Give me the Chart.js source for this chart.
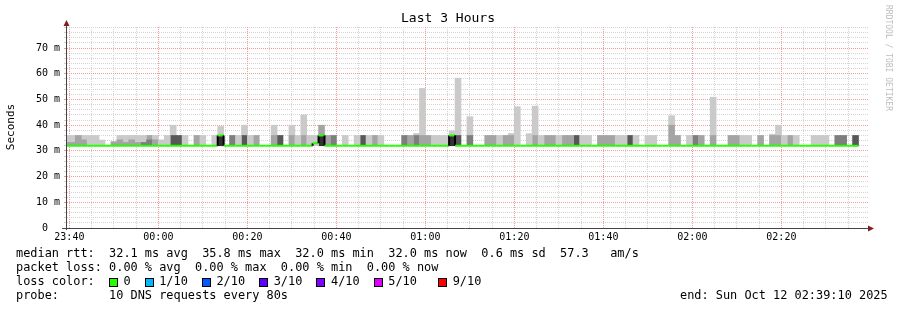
<!DOCTYPE html>
<html>
<head>
<meta charset="utf-8">
<title>Last 3 Hours</title>
<script src="https://cdn.jsdelivr.net/npm/chart.js@4/dist/chart.umd.min.js"></script>
<style>
html,body{margin:0;padding:0;background:#ffffff;overflow:hidden;}
#c{display:block;}
</style>
</head>
<body>
<canvas id="c" width="897" height="310"></canvas>
<script>
// ================= DATA =================
const stepSeconds = 80;            // RRD step
const firstStepStart = -80;        // seconds relative to 23:40:00
const axisStart = -32;             // 23:39:28
const axisEnd = 10768;             // 02:39:28
const timeLabels = ['23:40','00:00','00:20','00:40','01:00','01:20','01:40','02:00','02:20'];
const yTickLabels = ['0','10 m','20 m','30 m','40 m','50 m','60 m','70 m'];
const yMaxMs = 78.2;
const smokeBase = 32;

// per RRD step: shade of the lower smoke block (0 = no smoke, 1 light .. 5 darkest)
const lowShade = [
  2,2,2,2,1,1,1,0,2,2,
  2,2,2,3,3,2,1,1,4,4,
  1,0,2,1,0,1,5,0,3,1,
  4,1,2,0,0,2,4,0,2,1,
  2,1,1,5,2,3,0,1,0,1,
  4,1,2,1,0,0,0,3,2,3,
  2,2,1,1,1,5,4,0,3,0,
  0,2,2,1,2,2,1,0,1,2,
  1,2,2,1,2,2,4,1,1,0,
  2,2,2,1,1,4,1,0,1,1,
  0,0,2,2,0,1,3,2,0,2,
  0,0,2,2,1,1,0,2,0,2,
  2,1,2,1,0,0,1,1,1,0,
  3,3,0,4
];
// top of the lower smoke block (ms)
const lowTop = [
  33.3,33.3,36,34.3,36,36,34.2,null,33.6,34.3,
  33.3,34.3,33.3,33.3,34.3,34.3,34.3,36,36,36,
  36,null,36,36,null,36,36,null,36,36,
  36,36,36,null,null,36,36,null,36,36,
  36,36,36,36,36,36,null,36,null,36,
  36,36,36,36,null,null,null,36,36,36,
  36,36,36,36,36,36,36,null,36,null,
  null,36,36,36,36,36,47.2,null,36.7,36,
  36,36,36,36,36,36,36,36,36,null,
  36,36,36,36,36,36,36,null,36,36,
  null,null,40,36,null,36,36,36,null,36,
  null,null,36,36,36,36,null,36,null,36,
  36,36,36,36,null,null,36,36,36,null,
  36,36,null,36
];
// top of the upper (outlier) smoke block (ms)
const highTop = [
  36,36,null,36,null,null,null,null,null,36,
  36,36,36,36,36,36,null,null,40,null,
  null,null,null,null,null,null,39.5,null,null,null,
  40,null,null,null,null,40,null,null,40,null,
  44,null,null,40,null,null,null,null,null,null,
  null,null,null,null,null,null,null,null,null,36.8,
  54.3,null,null,null,null,37.8,58.3,null,43.3,null,
  null,null,null,null,null,36.8,null,null,null,47.4,
  null,null,null,null,null,null,null,null,null,null,
  null,null,null,null,null,null,null,null,null,null,
  null,null,43.7,null,null,null,null,null,null,50.9,
  null,null,null,null,null,null,null,null,null,36.5,
  40,null,null,null,null,null,null,null,null,null,
  null,null,null,null
];
// shade of the upper block
const topShade = [
  1,1,1,1,1,1,1,1,1,1,
  1,1,1,1,2,1,1,1,1,1,
  1,1,1,1,1,1,1,1,1,1,
  1,1,1,1,1,1,1,1,1,1,
  1,1,1,2,1,1,1,1,1,1,
  1,1,1,1,1,1,1,1,1,1,
  1,1,1,1,1,1,1,1,1,1,
  1,1,1,1,1,1,1,1,1,1,
  1,1,1,1,1,1,1,1,1,1,
  1,1,1,1,1,1,1,1,1,1,
  1,1,1,1,1,1,1,1,1,1,
  1,1,1,1,1,1,1,1,1,1,
  1,1,1,1,1,1,1,1,1,1,
  1,1,1,1
];
// median rtt per step (ms)
const medianMs = [
  32,32,32,32,32,32,32,32,32,32,
  32,32,32,32,32,32,32,32,32,32,
  32,32,32,32,32,32,36,32,32,32,
  32,32,32,32,32,32,32,32,32,32,
  32,32,33,36,32,32,32,32,32,32,
  32,32,32,32,32,32,32,32,32,32,
  32,32,32,32,32,36,32,32,32,32,
  32,32,32,32,32,32,32,32,32,32,
  32,32,32,32,32,32,32,32,32,32,
  32,32,32,32,32,32,32,32,32,32,
  32,32,32,32,32,32,32,32,32,32,
  32,32,32,32,32,32,32,32,32,32,
  32,32,32,32,32,32,32,32,32,32,
  32,32,32,32
];

const titleText = 'Last 3 Hours';
const yAxisTitle = 'Seconds';
const watermark = 'RRDTOOL / TOBI OETIKER';
const statsLine = 'median rtt:  32.1 ms avg  35.8 ms max  32.0 ms min  32.0 ms now  0.6 ms sd  57.3   am/s';
const lossLine  = 'packet loss: 0.00 % avg  0.00 % max  0.00 % min  0.00 % now';
const lossTitle = 'loss color:';
const lossLabels = ['0','1/10','2/10','3/10','4/10','5/10','9/10'];
const lossColors = ['#26ff00','#00b8ff','#0059ff','#5e00ff','#7e00ff','#dd00ff','#ff0000'];
const probeLine = 'probe:       10 DNS requests every 80s';
const endLine   = 'end: Sun Oct 12 02:39:10 2025';

// ================= STYLE =================
const MONO = '"DejaVu Sans Mono"';
const shadeColors = ['#cacaca','#a4a4a4','#7e7e7e','#585858','#323232'];
const medianColor = '#26ff00';
const minorGrid = '#d4d4d4';
const majorGrid = '#f49a9a';
const axisColor = '#444444';
const arrowColor = '#7f1f1f';

// ================= BUILD DATASETS =================
const stepCenter = j => firstStepStart + stepSeconds * j + stepSeconds / 2;
const datasets = [];

const medianPts = [];
medianMs.forEach((m, j) => {
  if (m == null) return;
  medianPts.push({x: firstStepStart + stepSeconds * j, y: m});
  medianPts.push({x: firstStepStart + stepSeconds * (j + 1), y: m});
});
datasets.push({
  type: 'line', data: medianPts, borderColor: medianColor, borderWidth: 2,
  pointRadius: 0, tension: 0, order: 0, clip: 0,
  segment: { borderColor: c => (c.p0.parsed.x === c.p1.parsed.x ? '#000000' : medianColor) }
});

const barCommon = { borderWidth: 0, barPercentage: 1, categoryPercentage: 1, grouped: false, order: 1 };
for (let s = 1; s <= 5; s++) {
  const pts = [];
  lowShade.forEach((sh, j) => { if (sh === s && lowTop[j] != null) pts.push({x: stepCenter(j), y: [smokeBase, lowTop[j]]}); });
  datasets.push(Object.assign({ type: 'bar', data: pts, backgroundColor: shadeColors[s - 1] }, barCommon));
}
for (let t = 1; t <= 2; t++) {
  const pts = [];
  highTop.forEach((h, j) => { if (h != null && topShade[j] === t && lowTop[j] != null) pts.push({x: stepCenter(j), y: [lowTop[j], h]}); });
  datasets.push(Object.assign({ type: 'bar', data: pts, backgroundColor: shadeColors[t - 1] }, barCommon));
}

// ================= PLUGIN (grid, axes, texts) =================
function dottedH(ctx, x1, x2, py, color) {
  ctx.fillStyle = color;
  for (let px = x1; px < x2; px += 2) ctx.fillRect(px, py, 1, 1);
}
function dottedV(ctx, y1, y2, px, color) {
  ctx.fillStyle = color;
  for (let py = y1; py < y2; py += 2) ctx.fillRect(px, py, 1, 1);
}
const rrdPlugin = {
  id: 'rrd',
  beforeDatasetsDraw(chart) {
    const {ctx, chartArea: a, scales: {x, y}} = chart;
    const L = Math.round(a.left), R = Math.round(a.right), T = Math.round(a.top), B = Math.round(a.bottom);
    ctx.save();
    const drawH = (major) => y.ticks.forEach(t => {
      if (t.value === 0 || (t.value % 10 === 0) !== major) return;
      const py = Math.floor(y.getPixelForValue(t.value));
      const col = major ? majorGrid : minorGrid;
      dottedH(ctx, L, R, py, col);
      ctx.fillStyle = col; ctx.fillRect(L - 3, py, 2, 1);
    });
    const drawV = (major) => x.ticks.forEach(t => {
      if ((t.value % 1200 === 0) !== major) return;
      const px = Math.floor(x.getPixelForValue(t.value));
      dottedV(ctx, T, B, px, major ? majorGrid : minorGrid);
    });
    drawH(false); drawV(false); drawH(true); drawV(true);
    ctx.restore();
  },
  afterDatasetsDraw(chart) {
    const {ctx, chartArea: a} = chart;
    ctx.save();
    ctx.strokeStyle = axisColor; ctx.lineWidth = 1; ctx.setLineDash([]);
    ctx.beginPath(); ctx.moveTo(a.left - 0.5, a.bottom + 2); ctx.lineTo(a.left - 0.5, a.top - 5); ctx.stroke();
    ctx.beginPath(); ctx.moveTo(a.left - 5, a.bottom + 0.5); ctx.lineTo(a.right + 1, a.bottom + 0.5); ctx.stroke();
    ctx.fillStyle = arrowColor;
    ctx.beginPath(); ctx.moveTo(a.left - 3.5, a.top - 1); ctx.lineTo(a.left + 2.5, a.top - 1); ctx.lineTo(a.left - 0.5, a.top - 7); ctx.closePath(); ctx.fill();
    ctx.beginPath(); ctx.moveTo(a.right, a.bottom - 2.5); ctx.lineTo(a.right, a.bottom + 3.5); ctx.lineTo(a.right + 6, a.bottom + 0.5); ctx.closePath(); ctx.fill();
    ctx.restore();
  },
  afterDraw(chart) {
    const {ctx} = chart;
    ctx.save();
    ctx.fillStyle = '#000';
    ctx.textBaseline = 'middle';
    // title
    ctx.font = '13px ' + MONO; ctx.textAlign = 'center';
    ctx.fillText(titleText, 448, 19);
    // y axis title
    ctx.save(); ctx.translate(11, 127); ctx.rotate(-Math.PI / 2);
    ctx.font = '11px ' + MONO; ctx.fillText(yAxisTitle, 0, 0); ctx.restore();
    // watermark
    ctx.save(); ctx.translate(888, 5); ctx.rotate(Math.PI / 2);
    ctx.font = '8px ' + MONO; ctx.fillStyle = '#bdbdbd'; ctx.textAlign = 'left';
    ctx.fillText(watermark, 0, 0); ctx.restore();
    // legend
    ctx.font = '11.9px ' + MONO; ctx.textAlign = 'left';
    const cw = ctx.measureText('M').width;
    const lx = 16;
    ctx.fillText(statsLine, lx, 254);
    ctx.fillText(lossLine, lx, 268);
    ctx.fillText(lossTitle, lx, 282);
    ctx.fillText(probeLine, lx, 296);
    let col = 15;
    lossLabels.forEach((lab, i) => {
      const tx = lx + col * cw;
      const sx = Math.round(tx - 14.5);
      ctx.fillStyle = lossColors[i];
      ctx.fillRect(sx, 278, 9, 9);
      ctx.strokeStyle = '#000'; ctx.lineWidth = 1;
      ctx.strokeRect(sx + 0.5, 278.5, 8, 8);
      ctx.fillStyle = '#000';
      ctx.fillText(lab, tx, 282);
      col += lab.length + 4;
      if (i === lossLabels.length - 2) col += 1;
    });
    ctx.textAlign = 'left';
    ctx.fillText(endLine, 680, 296);
    ctx.restore();
  }
};

// ================= CHART =================
new Chart(document.getElementById('c'), {
  type: 'bar',
  data: { datasets },
  options: {
    responsive: false, animation: false, devicePixelRatio: 1,
    events: [],
    layout: { autoPadding: false, padding: { left: 0, top: 27, right: 29, bottom: 62 } },
    plugins: { legend: { display: false }, tooltip: { enabled: false }, title: { display: false } },
    scales: {
      x: {
        type: 'linear', min: axisStart, max: axisEnd, offset: false,
        grid: { display: false, drawTicks: false }, border: { display: false },
        afterBuildTicks: s => { const t = []; for (let v = 0; v <= axisEnd; v += 300) t.push({value: v}); s.ticks = t; },
        ticks: {
          autoSkip: false, maxRotation: 0, minRotation: 0, padding: 3, color: '#000',
          font: { family: 'DejaVu Sans Mono', size: 10 },
          callback: v => (v % 1200 === 0 && timeLabels[v / 1200] !== undefined ? timeLabels[v / 1200] : '')
        },
        afterFit: s => { s.height = 20; }
      },
      y: {
        type: 'linear', min: 0, max: yMaxMs,
        grid: { display: false, drawTicks: false }, border: { display: false },
        afterBuildTicks: s => { const t = []; for (let v = 0; v <= yMaxMs; v += 2) t.push({value: v}); s.ticks = t; },
        ticks: {
          autoSkip: false, padding: 7, color: '#000',
          font: { family: 'DejaVu Sans Mono', size: 10 },
          callback: v => {
            if (v % 10 !== 0) return '';
            const lab = yTickLabels[v / 10];
            return lab === undefined ? '' : (lab.indexOf(' ') < 0 ? lab + '  ' : lab);
          }
        },
        afterFit: s => { s.width = 67; }
      }
    }
  },
  plugins: [rrdPlugin]
});
</script>
</body>
</html>
